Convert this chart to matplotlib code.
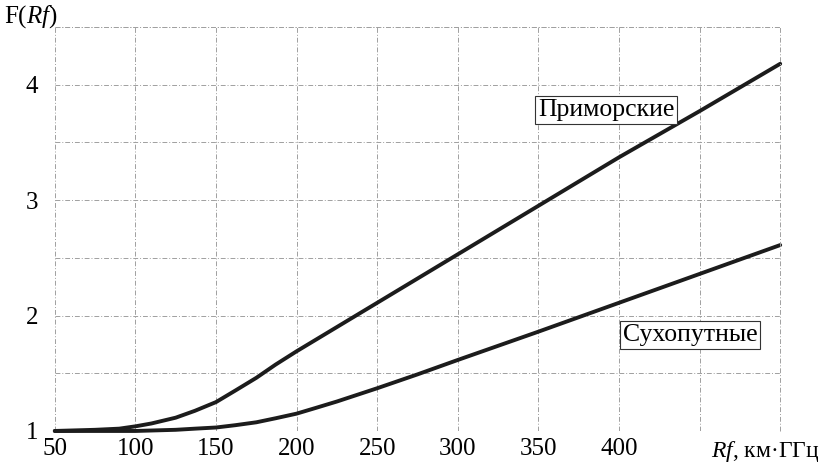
import numpy as np
import matplotlib.pyplot as plt
from matplotlib.ticker import MultipleLocator

plt.rcParams['font.family'] = ['Liberation Serif', 'DejaVu Serif']
plt.rcParams['mathtext.fontset'] = 'custom'
plt.rcParams['mathtext.rm'] = 'Liberation Serif'
plt.rcParams['mathtext.it'] = 'Liberation Serif:italic'

# values
rf_sea = [50, 75, 90, 100, 110, 125, 137, 150, 162, 175, 187, 200, 225, 250, 275, 300, 350, 400, 450, 500]
f_sea = [1.0, 1.01, 1.02, 1.04, 1.065, 1.115, 1.175, 1.25, 1.35, 1.46, 1.575, 1.69, 1.90, 2.11, 2.32, 2.53, 2.95, 3.37, 3.77, 4.18]
rf_land = [50, 75, 100, 125, 137, 150, 162, 175, 187, 200, 212, 225, 250, 275, 300, 350, 400, 450, 500]
f_land = [1.0, 1.0, 1.0, 1.01, 1.02, 1.03, 1.05, 1.075, 1.11, 1.15, 1.20, 1.255, 1.37, 1.49, 1.615, 1.86, 2.11, 2.36, 2.61]

xticks = [50, 100, 150, 200, 250, 300, 350, 400, 450, 500]
xlabels = ['50', '100', '150', '200', '250', '300', '350', '400', '', '']
yticks = [1, 2, 3, 4]

fig = plt.figure(figsize=(8.3, 4.71), dpi=100)
ax = fig.add_axes([0.066, 0.085, 0.874, 0.858])

ax.plot(rf_sea, f_sea, color='#1c1c1c', lw=2.8, solid_capstyle='round',
        solid_joinstyle='round', clip_on=False)
ax.plot(rf_land, f_land, color='#1c1c1c', lw=2.8, solid_capstyle='round',
        solid_joinstyle='round', clip_on=False)

ax.set_xlim(50, 500)
ax.set_ylim(1, 4.5)
ax.set_xticks(xticks)
ax.set_xticklabels(xlabels)
ax.set_yticks(yticks)
ax.yaxis.set_minor_locator(MultipleLocator(0.5))
ax.tick_params(which='both', length=0, labelsize=18)
ax.tick_params(axis='x', pad=5)
ax.tick_params(axis='y', pad=12)
gs = dict(color='#a0a0a0', lw=0.7, ls=(0, (5, 2, 1, 2)))
ax.grid(which='both', **gs)
for s in ax.spines.values():
    s.set_visible(False)

# borders drawn like the grid
ax.axhline(4.5, clip_on=False, **gs)
ax.axvline(500, clip_on=False, **gs)

box = dict(boxstyle='square,pad=0.12', fc='white', ec='#333333', lw=0.8)
ax.text(392, 3.78, 'Приморские', fontsize=18.5, ha='center', va='center', bbox=box)
ax.text(444, 1.83, 'Сухопутные', fontsize=18.5, ha='center', va='center', bbox=box)

fig.text(0.005, 0.965, 'F($\\mathit{Rf}$)', fontsize=18, ha='left', va='center')
fig.text(0.922, 0.042, '$\\mathit{Rf}$, км·ГГц', fontsize=17, ha='center', va='center')

fig.savefig('out.png', dpi=100)
